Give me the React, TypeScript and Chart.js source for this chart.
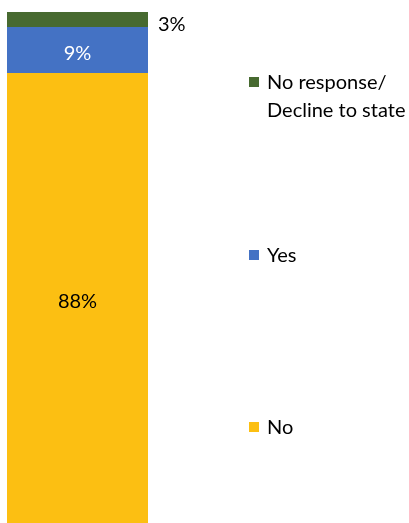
import React, { useEffect, useRef } from "react";
import { Chart, registerables } from "chart.js";

Chart.register(...registerables);

const categories = [""];
const seriesNames = ["No", "Yes", "No response/\nDecline to state"];
const seriesValues = [[88], [9], [3]];
const seriesColors = ["#FCBF12", "#4472C4", "#476A30"];
const labelColors = ["#000000", "#FFFFFF", "#000000"];

const FONT = "Lato, 'Open Sans', sans-serif";

const labelPlugin = {
  id: "segLabels",
  afterDatasetsDraw(chart: any) {
    const ctx = chart.ctx;
    ctx.save();
    ctx.font = `20px ${FONT}`;
    ctx.textBaseline = "middle";
    chart.data.datasets.forEach((ds: any, i: number) => {
      const meta = chart.getDatasetMeta(i);
      meta.data.forEach((el: any, j: number) => {
        const v = ds.data[j];
        const txt = `${v}%`;
        const top = Math.min(el.y, el.base);
        const bot = Math.max(el.y, el.base);
        const h = bot - top;
        if (h < 25) {
          ctx.textAlign = "left";
          ctx.fillStyle = "#000";
          ctx.fillText(txt, el.x + el.width / 2 + 10, (top + bot) / 2 + 5);
        } else {
          ctx.textAlign = "center";
          ctx.fillStyle = labelColors[i];
          ctx.fillText(txt, el.x, (top + bot) / 2 + 3);
        }
      });
    });
    ctx.restore();
  },
};

const legendPlugin = {
  id: "sideLegend",
  afterDraw(chart: any) {
    const ctx = chart.ctx;
    const positions = [427, 255, 82];
    ctx.save();
    ctx.font = `20px ${FONT}`;
    ctx.textBaseline = "middle";
    ctx.textAlign = "left";
    chart.data.datasets.forEach((ds: any, i: number) => {
      const y = positions[i];
      ctx.fillStyle = ds.backgroundColor;
      ctx.fillRect(249, y - 5, 10, 10);
      ctx.fillStyle = "#000";
      const lines = String(ds.label).split("\n");
      lines.forEach((ln: string, k: number) => {
        ctx.fillText(ln, 267, y + 1 + k * 28);
      });
    });
    ctx.restore();
  },
};

export default function App() {
  const ref = useRef<HTMLCanvasElement | null>(null);
  useEffect(() => {
    document.body.style.margin = "0";
    const chart = new Chart(ref.current!, {
      type: "bar",
      data: {
        labels: categories,
        datasets: seriesNames.map((n, i) => ({
          label: n,
          data: seriesValues[i],
          backgroundColor: seriesColors[i],
          borderWidth: 0,
          barPercentage: 1,
          categoryPercentage: 1,
        })),
      },
      options: {
        animation: false,
        responsive: false,
        maintainAspectRatio: false,
        layout: { padding: { left: 7, top: 12, right: 261, bottom: 0 } },
        plugins: { legend: { display: false }, tooltip: { enabled: false } },
        scales: {
          x: { stacked: true, display: false },
          y: { stacked: true, display: false, min: 0, max: 100 },
        },
      },
      plugins: [labelPlugin, legendPlugin],
    });
    return () => chart.destroy();
  }, []);
  return (
    <div style={{ width: 409, height: 523 }}>
      <canvas ref={ref} width={409} height={523} style={{ display: "block" }} />
    </div>
  );
}
